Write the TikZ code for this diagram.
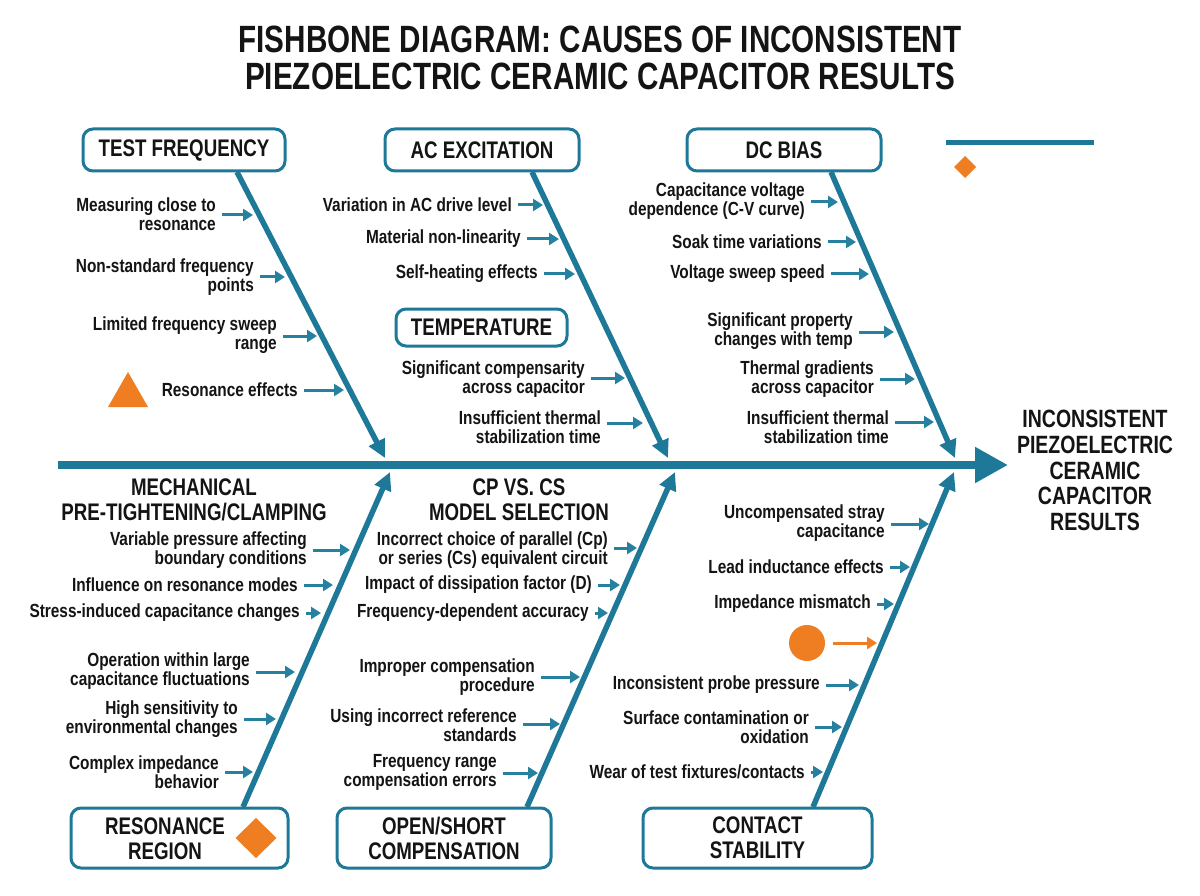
\documentclass[tikz,border=0pt]{standalone}
\usepackage{fontspec}
\setmainfont{Liberation Sans}[FakeStretch=0.81]
\newfontfamily\headfont{Liberation Sans}[FakeStretch=0.78]
\usetikzlibrary{arrows.meta}
\definecolor{fbteal}{HTML}{1E7898}
\definecolor{fbarrow}{HTML}{2680A0}
\definecolor{fborange}{HTML}{EF7D22}
\definecolor{fbink}{HTML}{141414}
\tikzset{
 cause/.style={font=\bfseries\fontsize{19}{19}\selectfont, text=fbink, align=right, inner sep=0pt, anchor=east},
 subarrow/.style={draw=fbarrow, line width=3pt, -{Triangle[length=10pt,width=12pt]}, shorten <=6pt},
 bone/.style={draw=fbteal, line width=5.5pt, -{Triangle[length=18pt,width=17pt]}},
 spine/.style={draw=fbteal, line width=8pt, -{Triangle[length=33pt,width=34pt]}},
 catbox/.style={draw=fbteal, line width=3pt, rounded corners=10pt, fill=white, inner sep=0pt,
   font=\headfont\bfseries\fontsize{24}{25}\selectfont, text=fbink, align=center},
 cattext/.style={font=\headfont\bfseries\fontsize{24}{25}\selectfont, text=fbink, align=center, inner sep=0pt},
 orangemark/.style={fill=fborange, draw=none},
}
\newcommand\fbcause[6]{%
 \node[cause] (#1) at (#2,#3) {#6};
 \coordinate (#1-e) at (#5,#4);
 \draw[subarrow] (#1.east |- #1-e) -- (#1-e);
}
\begin{document}
\begin{tikzpicture}[x=1pt,y=-1pt]
\useasboundingbox (0,0) rectangle (1200,896);
\fill[white] (0,0) rectangle (1200,896);

% title
\node[font=\headfont\bfseries\fontsize{38}{37}\selectfont, text=fbink, align=center, inner sep=0pt] (title) at (600,58)
 {FISHBONE DIAGRAM: CAUSES OF INCONSISTENT\\PIEZOELECTRIC CERAMIC CAPACITOR RESULTS};

% spine
\coordinate (spine-s) at (58,465);
\coordinate (spine-e) at (1008,465);
\draw[spine] (spine-s) -- (spine-e);

% bones
\coordinate (tf-s) at (237,172);  \coordinate (tf-h) at (385,458);
\coordinate (ac-s) at (532,172);  \coordinate (ac-h) at (668,458);
\coordinate (dc-s) at (831,172);  \coordinate (dc-h) at (955,458);
\coordinate (res-s) at (243,807); \coordinate (res-h) at (390,472);
\coordinate (os-s) at (527,807);  \coordinate (os-h) at (675,472);
\coordinate (ct-s) at (813,807);  \coordinate (ct-h) at (954,472);
\draw[bone] (tf-s) -- (tf-h);
\draw[bone] (ac-s) -- (ac-h);
\draw[bone] (dc-s) -- (dc-h);
\draw[bone] (res-s) -- (res-h);
\draw[bone] (os-s) -- (os-h);
\draw[bone] (ct-s) -- (ct-h);

% category boxes
\node[catbox, minimum width=202pt, minimum height=42pt] (tf) at (184,150) {TEST FREQUENCY};
\node[catbox, minimum width=194pt, minimum height=42pt] (ac) at (482,150) {AC EXCITATION};
\node[catbox, minimum width=194pt, minimum height=42pt] (dc) at (784,150) {DC BIAS};
\node[catbox, minimum width=171pt, minimum height=37pt] (temp) at (481.5,327.5) {TEMPERATURE};
\node[catbox, minimum width=217pt, minimum height=60pt] (res) at (179.5,838) {};
\node[cattext] (res-t) at (165,838.5) {RESONANCE\\REGION};
\node[catbox, minimum width=214pt, minimum height=60pt] (os) at (444,838) {OPEN/SHORT\\COMPENSATION};
\node[catbox, minimum width=229pt, minimum height=60pt] (ct) at (757.5,838) {CONTACT\\STABILITY};

% headers without boxes
\node[cattext] (mech) at (194,500) {MECHANICAL\\PRE-TIGHTENING/CLAMPING};
\node[cattext] (cpcs) at (519,500) {CP VS. CS\\MODEL SELECTION};

% effect
\node[font=\headfont\bfseries\fontsize{25}{25.8}\selectfont, text=fbink, align=center, inner sep=0pt] (effect) at (1095,470.5)
 {INCONSISTENT\\PIEZOELECTRIC\\CERAMIC\\CAPACITOR\\RESULTS};

% test frequency causes
\fbcause{tf1}{216}{214.5}{215}{253}{Measuring close to\\resonance}
\fbcause{tf2}{254}{277.5}{277}{285}{Non-standard frequency\\points}
\fbcause{tf3}{277}{335.5}{336}{317}{Limited frequency sweep\\range}
\fbcause{tf4}{298}{389.5}{390}{344}{Resonance effects}

% ac excitation causes
\fbcause{ac1}{512}{205}{205}{543}{Variation in AC drive level}
\fbcause{ac2}{521}{239}{239}{559}{Material non-linearity}
\fbcause{ac3}{538}{274}{274}{575}{Self-heating effects}

% temperature causes
\fbcause{te1}{585}{379.5}{378}{625}{Significant compensarity\\across capacitor}
\fbcause{te2}{601}{427.5}{423}{643}{Insufficient thermal\\stabilization time}

% dc bias causes
\fbcause{dc1}{805}{201.5}{202}{838}{Capacitance voltage\\dependence (C-V curve)}
\fbcause{dc2}{822}{242}{242}{856}{Soak time variations}
\fbcause{dc3}{825}{274}{274}{869}{Voltage sweep speed}
\fbcause{dc4}{853}{331.5}{332}{894}{Significant property\\changes with temp}
\fbcause{dc5}{874}{379.5}{379}{915}{Thermal gradients\\across capacitor}
\fbcause{dc6}{889}{427.5}{422}{934}{Insufficient thermal\\stabilization time}

% mechanical causes
\fbcause{me1}{307}{550.5}{550}{350}{Variable pressure affecting\\boundary conditions}
\fbcause{me2}{298}{585}{585}{333}{Influence on resonance modes}
\fbcause{me3}{300}{613}{613}{321}{Stress-induced capacitance changes}
\fbcause{me4}{250}{671.5}{672}{295}{Operation within large\\capacitance fluctuations}
\fbcause{me5}{238}{719.5}{719}{276}{High sensitivity to\\environmental changes}
\fbcause{me6}{219}{772}{772}{253}{Complex impedance\\behavior}

% cp vs cs causes
\fbcause{cp1}{608}{550.5}{548}{637}{Incorrect choice of parallel (Cp)\\or series (Cs) equivalent circuit}
\fbcause{cp2}{592}{585}{585}{620}{Impact of dissipation factor (D)}
\fbcause{cp3}{589}{613}{613}{608}{Frequency-dependent accuracy}

% open/short causes
\fbcause{os1}{535}{677}{677}{580}{Improper compensation\\procedure}
\fbcause{os2}{517}{725}{724}{560}{Using incorrect reference\\standards}
\fbcause{os3}{497}{772.5}{773}{538}{Frequency range\\compensation errors}

% contact stability causes
\fbcause{ct1}{885}{523.5}{524}{929}{Uncompensated stray\\capacitance}
\fbcause{ct2}{884}{567}{567}{910}{Lead inductance effects}
\fbcause{ct3}{871}{604}{604}{894}{Impedance mismatch}
\fbcause{ct4}{820}{685}{685}{859}{Inconsistent probe pressure}
\fbcause{ct5}{809}{727.5}{727}{842}{Surface contamination or\\oxidation}
\fbcause{ct6}{805}{772}{772}{823}{Wear of test fixtures/contacts}

% decorative marks
\coordinate (leg-a) at (946,143);
\coordinate (leg-b) at (1094,143);
\draw[draw=fbteal, line width=5pt] (leg-a) -- (leg-b);
\fill[orangemark] (965,156) -- (976,167) -- (965,178) -- (954,167) -- cycle;
\fill[orangemark] (128,372) -- (148,407) -- (108,407) -- cycle;
\fill[orangemark] (256,818) -- (276.5,838) -- (256,858) -- (235.5,838) -- cycle;
\node[circle, orangemark, minimum size=36pt, inner sep=0pt] (dot) at (807,643) {};
\coordinate (dot-e) at (877,643);
\draw[draw=fborange, line width=3pt, -{Triangle[length=10pt,width=12pt]}, shorten <=8pt] (dot.east) -- (dot-e);
\end{tikzpicture}
\end{document}
